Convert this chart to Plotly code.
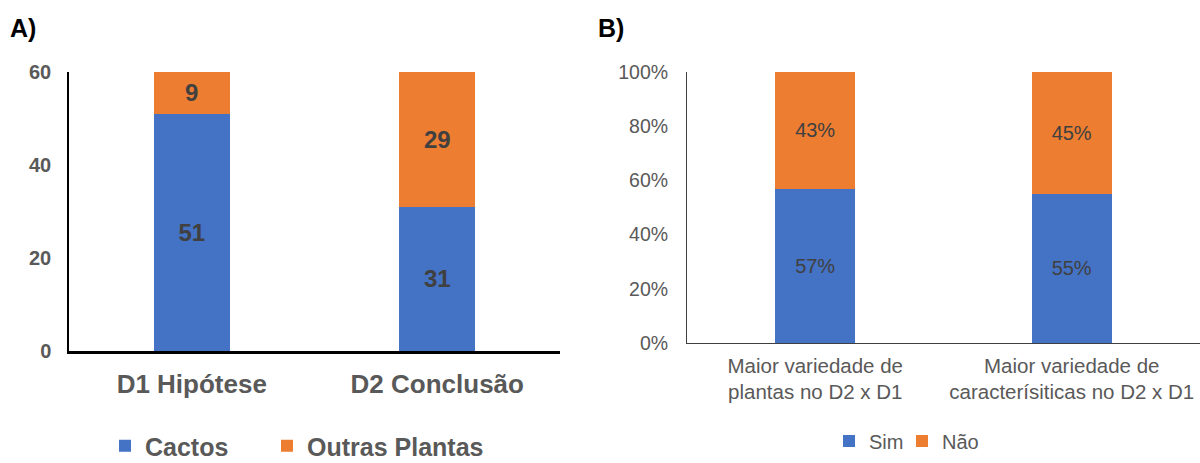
import plotly.graph_objects as go

W, H = 1200, 463
FONT = "Arial, Liberation Sans, sans-serif"
BLUE = "#4472C4"
ORANGE = "#ED7D31"

# Panel A data
cats_a = ["D1 Hipótese", "D2 Conclusão"]
cactos = [51, 31]
outras = [9, 29]
ticks_a = [0, 20, 40, 60]

# Panel B data
cats_b = ["Maior variedade de<br>plantas no D2 x D1", "Maior variedade de<br>caracterísiticas no D2 x D1"]
sim = [57, 55]
nao = [43, 45]
ticks_b = [0, 20, 40, 60, 80, 100]
ticks_b_text = [f"{t}%" for t in ticks_b]


def px_x(x):
    return x / W


def px_y(y):
    return (H - y) / H


fig = go.Figure()

lab_a = dict(family=FONT, size=24, color="#404040", weight="bold")
lab_b = dict(family=FONT, size=20, color="#404040")

fig.add_trace(go.Bar(
    x=cats_a, y=cactos, name="Cactos", marker=dict(color=BLUE, line=dict(width=0)),
    text=[str(v) for v in cactos], textposition="inside", insidetextanchor="middle",
    textfont=lab_a, textangle=0, constraintext="none", xaxis="x", yaxis="y", legend="legend",
))
fig.add_trace(go.Bar(
    x=cats_a, y=outras, name="Outras Plantas", marker=dict(color=ORANGE, line=dict(width=0)),
    text=[str(v) for v in outras], textposition="inside", insidetextanchor="middle",
    textfont=lab_a, textangle=0, constraintext="none", xaxis="x", yaxis="y", legend="legend3",
))
fig.add_trace(go.Bar(
    x=cats_b, y=sim, name="Sim", marker=dict(color=BLUE, line=dict(width=0)),
    text=[f"{v}%" for v in sim], textposition="inside", insidetextanchor="middle",
    textfont=lab_b, textangle=0, constraintext="none", xaxis="x2", yaxis="y2", legend="legend2",
))
fig.add_trace(go.Bar(
    x=cats_b, y=nao, name="Não", marker=dict(color=ORANGE, line=dict(width=0)),
    text=[f"{v}%" for v in nao], textposition="inside", insidetextanchor="middle",
    textfont=lab_b, textangle=0, constraintext="none", xaxis="x2", yaxis="y2", legend="legend4",
))

leg_a_font = dict(family=FONT, size=25, color="#595959", weight="bold")
leg_b_font = dict(family=FONT, size=20, color="#595959")


def leg(text_left, yc, font):
    return dict(
        orientation="h", x=px_x(text_left - 40), xanchor="left", y=px_y(yc), yanchor="middle",
        font=font, bgcolor="rgba(0,0,0,0)", borderwidth=0,
    )


fig.update_layout(
    width=W, height=H,
    margin=dict(l=0, r=0, t=0, b=0, autoexpand=False),
    paper_bgcolor="white", plot_bgcolor="white",
    barmode="stack", bargap=0.69,
    font=dict(family=FONT),
    showlegend=True,
    xaxis=dict(
        domain=[px_x(69), px_x(560)], anchor="y",
        showline=True, linecolor="black", linewidth=3,
        showgrid=False, zeroline=False, ticks="outside", ticklen=8, tickcolor="rgba(0,0,0,0)",
        tickfont=dict(family=FONT, size=26, color="#595959", weight="bold"),
    ),
    yaxis=dict(
        domain=[px_y(351), px_y(72)], anchor="x",
        range=[0, 60], tickvals=ticks_a,
        showline=True, linecolor="black", linewidth=1.5,
        showgrid=False, zeroline=False, ticks="outside", ticklen=12, tickcolor="rgba(0,0,0,0)",
        tickfont=dict(family=FONT, size=20, color="#595959", weight="bold"),
    ),
    xaxis2=dict(
        domain=[px_x(687), px_x(1200)], anchor="y2",
        showline=True, linecolor="#404040", linewidth=1,
        showgrid=False, zeroline=False, ticks="outside", ticklen=4, tickcolor="rgba(0,0,0,0)",
        tickfont=dict(family=FONT, size=20.5, color="#595959"),
    ),
    yaxis2=dict(
        domain=[px_y(343), px_y(72)], anchor="x2",
        range=[0, 100], tickvals=ticks_b, ticktext=ticks_b_text,
        showline=True, linecolor="#404040", linewidth=1,
        showgrid=False, zeroline=False,
        ticks="outside", ticklen=14, tickcolor="rgba(0,0,0,0)",
        tickfont=dict(family=FONT, size=19.5, color="#595959"),
    ),
    legend=leg(145, 446, leg_a_font),
    legend3=leg(307, 446, leg_a_font),
    legend2=leg(869, 441, leg_b_font),
    legend4=leg(942, 441, leg_b_font),
    annotations=[
        dict(text="<b>A)</b>", x=px_x(8), y=px_y(28), xref="paper", yref="paper",
             xanchor="left", yanchor="middle", showarrow=False,
             font=dict(family=FONT, size=25, color="black")),
        dict(text="<b>B)</b>", x=px_x(596), y=px_y(28), xref="paper", yref="paper",
             xanchor="left", yanchor="middle", showarrow=False,
             font=dict(family=FONT, size=25, color="black")),
    ],
)

fig.write_html("out.html")
